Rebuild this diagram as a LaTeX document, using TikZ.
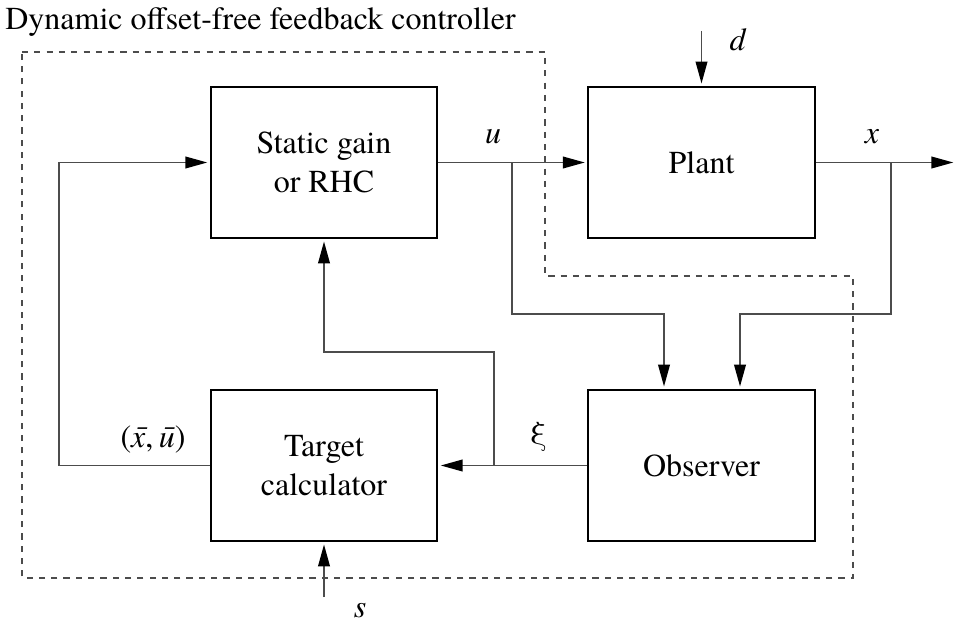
\documentclass[tikz,border=0pt]{standalone}
\usepackage{fontspec}
\setmainfont{texgyretermes}[Extension=.otf, UprightFont=*-regular, ItalicFont=*-italic, BoldFont=*-bold, BoldItalicFont=*-bolditalic]
\usepackage{tikz}
\usetikzlibrary{arrows.meta}

\begin{document}
\begin{tikzpicture}[
    font=\fontsize{18.2}{22}\selectfont,
    block/.style={draw=black, line width=0.9pt, minimum width=4.53cm, minimum height=3.02cm, inner sep=0pt, align=center},
    conn/.style={draw=black!70, line width=1.1pt},
    arr/.style={conn, -{Triangle[length=12.5pt,width=6.6pt,color=black]}, shorten >=1.5pt},
    lbl/.style={inner sep=0pt}
]
    \useasboundingbox (0,0) rectangle (19.12,-12.48);

    \node[lbl, anchor=west] (title) at (0.1,-0.44) {Dynamic offset-free feedback controller};

    % controller border
    \draw[black!70, line width=0.7pt, dash pattern=on 3.5pt off 3.5pt]
        (0.44,-1.04) -- (10.9,-1.04) -- (10.9,-5.52) -- (17.06,-5.52)
        -- (17.06,-11.56) -- (0.44,-11.56) -- cycle;

    \node[block] (gain) at (6.48,-3.25) {Static gain\\or RHC};
    \node[block] (plant) at (14.03,-3.25) {Plant};
    \node[block] (target) at (6.48,-9.31) {Target\\calculator};
    \node[block] (obs) at (14.03,-9.31) {Observer};

    \coordinate (din) at (14.03,-0.62);
    \coordinate (sin) at (6.48,-11.94);
    \coordinate (xout) at (19.12,-3.25);
    \coordinate (ubr) at (10.24,-3.25);
    \coordinate (xbr) at (17.82,-3.25);
    \coordinate (uobs) at (13.28,-6.28);
    \coordinate (xobs) at (14.8,-6.28);
    \coordinate (xibr) at (9.88,-9.31);
    \coordinate (ximid) at (9.88,-7.04);
    \coordinate (loop) at (1.18,-9.31);

    \draw[arr] (gain) -- (plant);
    \draw[arr] (plant) -- (xout);
    \draw[arr] (din) -- (plant);
    \draw[arr] (sin) -- (target);
    \draw[arr] (obs) -- (target);
    \draw[arr] (target) -- (loop) |- (gain);
    \draw[arr] (ubr) |- (uobs) -- (uobs |- obs.north);
    \draw[arr] (xbr) |- (xobs) -- (xobs |- obs.north);
    \draw[arr] (xibr) -- (ximid) -| (gain.south);

    \node[lbl] (ulbl) at (9.86,-2.74) {\textit{u}};
    \node[lbl] (xlbl) at (17.44,-2.74) {\textit{x}};
    \node[lbl] (dlbl) at (14.76,-0.8) {\textit{d}};
    \node[lbl] (slbl) at (7.2,-12.22) {\textit{s}};
    \node[lbl] (xilbl) at (10.76,-8.74) {ξ};
    \node[lbl] (reflbl) at (3.06,-8.8) {(\textit{\=x},\,\textit{\=u})};
\end{tikzpicture}
\end{document}
